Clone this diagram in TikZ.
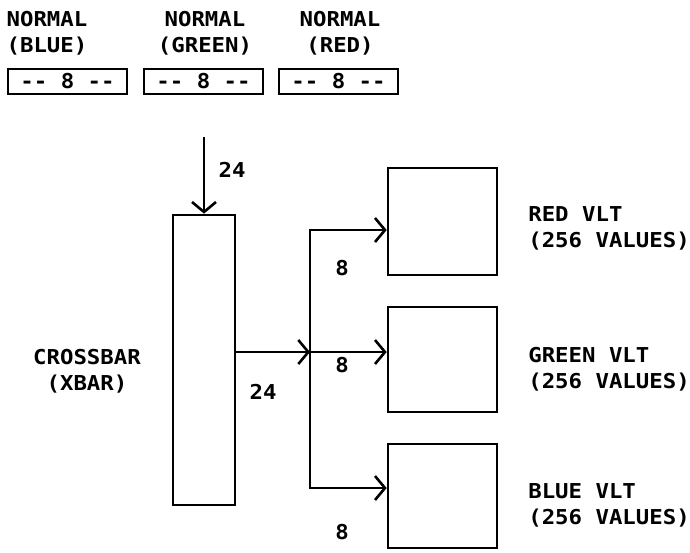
\documentclass[tikz,border=0pt]{standalone}
\usepackage{fontspec}
\newfontfamily\plotfont[FakeStretch=1.09]{DejaVu Sans Mono Bold}
\usetikzlibrary{arrows.meta}
\begin{document}
\begin{tikzpicture}[x=1pt,y=-1pt,
  line width=2.6pt,
  lbl/.style={font=\plotfont\fontsize{20.5}{21}\selectfont, inner sep=0pt, align=center},
  lbll/.style={font=\plotfont\fontsize{20.5}{21}\selectfont, inner sep=0pt, align=left, anchor=west},
  bx/.style={draw, line width=2.6pt, inner sep=0pt},
  arr/.style={-{Straight Barb[length=10pt,width=24pt,line width=2.6pt]}},
]
\useasboundingbox (0,0) rectangle (690,552);
% top labels
\node[lbl] (nb) at (47,33) {NORMAL\\[5pt](BLUE)};
\node[lbl] (ng) at (205,33) {NORMAL\\[5pt](GREEN)};
\node[lbl] (nr) at (340,33) {NORMAL\\[5pt](RED)};
% small boxes
\node[bx, lbl, minimum width=119, minimum height=25, draw] (b1) at (67.5,81.5) {-- 8 --};
\node[bx, lbl, minimum width=119, minimum height=25, draw] (b2) at (203.5,81.5) {-- 8 --};
\node[bx, lbl, minimum width=119, minimum height=25, draw] (b3) at (338.5,81.5) {-- 8 --};
% crossbar
\node[bx, minimum width=62, minimum height=290] (xbar) at (204,360) {};
\node[lbl] (xl) at (87,371) {CROSSBAR\\[5pt](XBAR)};
% VLT boxes
\node[bx, minimum width=109, minimum height=107] (rv) at (442.5,221.5) {};
\node[bx, minimum width=109, minimum height=105] (gv) at (442.5,359.5) {};
\node[bx, minimum width=109, minimum height=104] (bv) at (442.5,496) {};
\node[lbll] (rl) at (527,228) {RED VLT\\[5pt](256 VALUES)};
\node[lbll] (gl) at (527,369) {GREEN VLT\\[5pt](256 VALUES)};
\node[lbll] (bll) at (527,505) {BLUE VLT\\[5pt](256 VALUES)};
% connectors
\coordinate (in) at ([yshift=77pt]xbar.north);
\coordinate (j) at (310,352);
\coordinate (t) at (310,230);
\coordinate (b) at (310,488);
\draw[arr] (in) -- (xbar.north);
\draw[arr] (xbar.east |- j) -- (j);
\draw[arr] (j) -- (gv.west |- j);
\draw[arr] (j) -- (t) -- (rv.west |- t);
\draw[arr] (j) -- (b) -- (bv.west |- b);
% numbers
\node[lbl] (n24a) at (232,170) {24};
\node[lbl] (n24b) at (263,392) {24};
\node[lbl] (n8a) at (342,268) {8};
\node[lbl] (n8b) at (342,365) {8};
\node[lbl] (n8c) at (342,532) {8};
\end{tikzpicture}
\end{document}
